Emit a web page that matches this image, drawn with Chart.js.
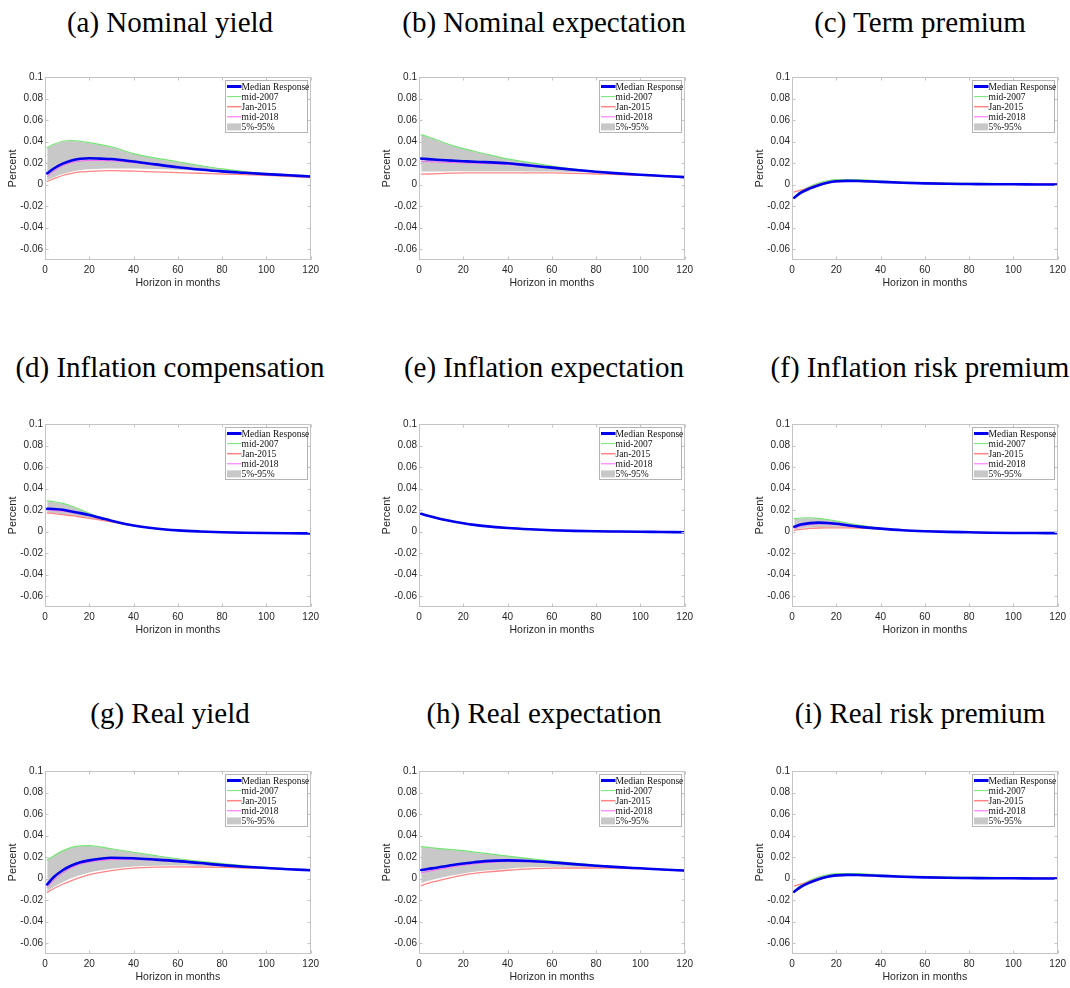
<!DOCTYPE html>
<html>
<head>
<meta charset="utf-8">
<script src="https://cdn.jsdelivr.net/npm/chart.js@4.4.1/dist/chart.umd.min.js"></script>
<style>
  html, body { margin: 0; padding: 0; background: #fff; }
  #page { position: relative; width: 1070px; height: 988px; overflow: hidden; background: #fff; }
  .panel { position: absolute; }
  .ptitle {
    position: absolute; width: 380px; text-align: center;
    font-family: "Liberation Serif", "DejaVu Serif", serif; font-size: 29px; color: #000;
    line-height: 30px; white-space: nowrap;
  }
</style>
</head>
<body>
<div id="page"></div>
<script>
// Impulse responses over a 120-month horizon, sampled at these months
const horizons = [1, 4, 8, 12, 16, 20, 25, 30, 40, 50, 60, 70, 80, 90, 100, 110, 120];
const xTicks = [0, 20, 40, 60, 80, 100, 120];
const yTicks = [-0.06, -0.04, -0.02, 0, 0.02, 0.04, 0.06, 0.08, 0.1];
const yTickLabels = ['-0.06', '-0.04', '-0.02', '0', '0.02', '0.04', '0.06', '0.08', '0.1'];
const legendLabels = ['Median Response', 'mid-2007', 'Jan-2015', 'mid-2018', '5%-95%'];
const panelTitles = [
  '(a) Nominal yield', '(b) Nominal expectation', '(c) Term premium',
  '(d) Inflation compensation', '(e) Inflation expectation', '(f) Inflation risk premium',
  '(g) Real yield', '(h) Real expectation', '(i) Real risk premium'
];

// (a) Nominal yield
const nomYield_median  = [0.0105, 0.0150, 0.0195, 0.0225, 0.0240, 0.0245, 0.0242, 0.0238, 0.0215, 0.0188, 0.0162, 0.0141, 0.0123, 0.0110, 0.0098, 0.0087, 0.0076];
const nomYield_mid2007 = [0.0344, 0.0375, 0.0403, 0.0410, 0.0403, 0.0390, 0.0372, 0.0352, 0.0288, 0.0247, 0.0213, 0.0178, 0.0146, 0.0122, 0.0102, 0.0089, 0.0078];
const nomYield_jan2015 = [0.0030, 0.0055, 0.0085, 0.0105, 0.0118, 0.0123, 0.0128, 0.0130, 0.0125, 0.0118, 0.0112, 0.0106, 0.0099, 0.0093, 0.0087, 0.0078, 0.0065];
const nomYield_mid2018 = [0.0075, 0.0125, 0.0175, 0.0205, 0.0220, 0.0225, 0.0225, 0.0222, 0.0205, 0.0180, 0.0157, 0.0138, 0.0121, 0.0108, 0.0096, 0.0086, 0.0075];
const nomYield_p05     = [0.0040, 0.0068, 0.0098, 0.0120, 0.0135, 0.0142, 0.0147, 0.0149, 0.0149, 0.0145, 0.0138, 0.0127, 0.0114, 0.0104, 0.0094, 0.0084, 0.0072];
const nomYield_p95     = [0.0338, 0.0370, 0.0398, 0.0405, 0.0398, 0.0385, 0.0368, 0.0348, 0.0284, 0.0243, 0.0209, 0.0175, 0.0144, 0.0120, 0.0101, 0.0088, 0.0077];

// (b) Nominal expectation
const nomExp_median  = [0.0242, 0.0237, 0.0231, 0.0226, 0.0222, 0.0218, 0.0213, 0.0209, 0.0199, 0.0178, 0.0158, 0.0138, 0.0120, 0.0105, 0.0092, 0.0081, 0.0070];
const nomExp_mid2007 = [0.0463, 0.0445, 0.0415, 0.0385, 0.0358, 0.0334, 0.0310, 0.0285, 0.0239, 0.0205, 0.0173, 0.0145, 0.0122, 0.0105, 0.0092, 0.0082, 0.0072];
const nomExp_jan2015 = [0.0097, 0.0099, 0.0102, 0.0105, 0.0107, 0.0109, 0.0110, 0.0110, 0.0110, 0.0110, 0.0109, 0.0105, 0.0099, 0.0094, 0.0087, 0.0078, 0.0066];
const nomExp_mid2018 = [0.0215, 0.0213, 0.0210, 0.0207, 0.0204, 0.0202, 0.0199, 0.0196, 0.0188, 0.0172, 0.0154, 0.0135, 0.0118, 0.0104, 0.0091, 0.0080, 0.0069];
const nomExp_p05     = [0.0122, 0.0122, 0.0123, 0.0123, 0.0124, 0.0124, 0.0124, 0.0124, 0.0124, 0.0123, 0.0122, 0.0118, 0.0112, 0.0102, 0.0091, 0.0080, 0.0070];
const nomExp_p95     = [0.0459, 0.0441, 0.0411, 0.0381, 0.0354, 0.0330, 0.0306, 0.0282, 0.0236, 0.0202, 0.0171, 0.0143, 0.0121, 0.0104, 0.0091, 0.0081, 0.0071];

// (c) Term premium
const termPrem_median  = [-0.0122, -0.0075, -0.0035, -0.0005, 0.0018, 0.0031, 0.0035, 0.0034, 0.0026, 0.0018, 0.0012, 0.0008, 0.0006, 0.0004, 0.0003, 0.0002, 0.0001];
const termPrem_mid2007 = [-0.0112, -0.0062, -0.0018, 0.0015, 0.0036, 0.0046, 0.0048, 0.0046, 0.0034, 0.0024, 0.0018, 0.0014, 0.0012, 0.0011, 0.0010, 0.0010, 0.0010];
const termPrem_jan2015 = [-0.0068, -0.0052, -0.0025, 0.0002, 0.0018, 0.0028, 0.0032, 0.0031, 0.0025, 0.0018, 0.0013, 0.0010, 0.0008, 0.0007, 0.0006, 0.0006, 0.0006];
const termPrem_mid2018 = [-0.0115, -0.0072, -0.0032, -0.0002, 0.0017, 0.0028, 0.0032, 0.0031, 0.0024, 0.0016, 0.0011, 0.0008, 0.0006, 0.0005, 0.0005, 0.0005, 0.0005];
const termPrem_p05     = [-0.0125, -0.0092, -0.0052, -0.0018, 0.0005, 0.0018, 0.0024, 0.0025, 0.0021, 0.0015, 0.0010, 0.0007, 0.0005, 0.0004, 0.0003, 0.0002, 0.0001];
const termPrem_p95     = [-0.0108, -0.0058, -0.0015, 0.0017, 0.0038, 0.0046, 0.0048, 0.0046, 0.0035, 0.0025, 0.0019, 0.0015, 0.0013, 0.0012, 0.0011, 0.0011, 0.0011];

// (d) Inflation compensation
const inflComp_median  = [0.0213, 0.0211, 0.0203, 0.0188, 0.0172, 0.0154, 0.0128, 0.0102, 0.0057, 0.0029, 0.0012, 0.0002, -0.0005, -0.0010, -0.0013, -0.0015, -0.0016];
const inflComp_mid2007 = [0.0286, 0.0278, 0.0262, 0.0238, 0.0205, 0.0170, 0.0132, 0.0098, 0.0055, 0.0028, 0.0012, 0.0002, -0.0005, -0.0010, -0.0013, -0.0014, -0.0015];
const inflComp_jan2015 = [0.0175, 0.0168, 0.0158, 0.0148, 0.0136, 0.0123, 0.0108, 0.0091, 0.0055, 0.0029, 0.0012, 0.0001, -0.0007, -0.0011, -0.0014, -0.0015, -0.0016];
const inflComp_mid2018 = [0.0200, 0.0198, 0.0190, 0.0178, 0.0164, 0.0148, 0.0124, 0.0099, 0.0056, 0.0028, 0.0011, 0.0001, -0.0006, -0.0010, -0.0013, -0.0015, -0.0016];
const inflComp_p05     = [0.0178, 0.0172, 0.0162, 0.0152, 0.0140, 0.0127, 0.0111, 0.0093, 0.0054, 0.0027, 0.0010, 0.0000, -0.0007, -0.0011, -0.0014, -0.0016, -0.0017];
const inflComp_p95     = [0.0282, 0.0274, 0.0258, 0.0234, 0.0202, 0.0168, 0.0130, 0.0097, 0.0055, 0.0028, 0.0012, 0.0002, -0.0005, -0.0009, -0.0012, -0.0013, -0.0014];

// (e) Inflation expectation
const inflExp_median  = [0.0166, 0.0148, 0.0127, 0.0108, 0.0092, 0.0078, 0.0063, 0.0051, 0.0034, 0.0022, 0.0013, 0.0007, 0.0003, 0.0001, -0.0001, -0.0003, -0.0005];
const inflExp_mid2007 = [0.0168, 0.0150, 0.0129, 0.0110, 0.0094, 0.0080, 0.0065, 0.0053, 0.0035, 0.0023, 0.0014, 0.0008, 0.0004, 0.0002, 0.0000, -0.0002, -0.0004];
const inflExp_jan2015 = [0.0164, 0.0146, 0.0125, 0.0106, 0.0090, 0.0076, 0.0061, 0.0049, 0.0032, 0.0021, 0.0012, 0.0006, 0.0002, 0.0000, -0.0002, -0.0004, -0.0006];
const inflExp_mid2018 = [0.0165, 0.0147, 0.0126, 0.0107, 0.0091, 0.0077, 0.0062, 0.0050, 0.0033, 0.0021, 0.0012, 0.0006, 0.0002, 0.0000, -0.0002, -0.0004, -0.0006];
const inflExp_p05     = [0.0163, 0.0145, 0.0124, 0.0105, 0.0089, 0.0075, 0.0060, 0.0048, 0.0031, 0.0020, 0.0011, 0.0005, 0.0001, -0.0001, -0.0003, -0.0005, -0.0007];
const inflExp_p95     = [0.0169, 0.0151, 0.0130, 0.0111, 0.0095, 0.0081, 0.0066, 0.0054, 0.0036, 0.0024, 0.0015, 0.0009, 0.0005, 0.0002, 0.0000, -0.0002, -0.0003];

// (f) Inflation risk premium
const inflRP_median  = [0.0046, 0.0066, 0.0079, 0.0084, 0.0081, 0.0073, 0.0060, 0.0047, 0.0028, 0.0013, 0.0004, -0.0002, -0.0006, -0.0010, -0.0012, -0.0013, -0.0014];
const inflRP_mid2007 = [0.0121, 0.0127, 0.0129, 0.0124, 0.0113, 0.0099, 0.0080, 0.0062, 0.0031, 0.0013, 0.0004, -0.0002, -0.0006, -0.0010, -0.0012, -0.0014, -0.0015];
const inflRP_jan2015 = [0.0013, 0.0022, 0.0030, 0.0034, 0.0035, 0.0035, 0.0035, 0.0034, 0.0026, 0.0014, 0.0006, -0.0001, -0.0006, -0.0010, -0.0012, -0.0013, -0.0014];
const inflRP_mid2018 = [0.0032, 0.0052, 0.0066, 0.0072, 0.0071, 0.0066, 0.0056, 0.0045, 0.0027, 0.0012, 0.0003, -0.0003, -0.0007, -0.0010, -0.0012, -0.0013, -0.0014];
const inflRP_p05     = [0.0020, 0.0030, 0.0038, 0.0041, 0.0042, 0.0041, 0.0039, 0.0036, 0.0026, 0.0013, 0.0004, -0.0002, -0.0007, -0.0011, -0.0013, -0.0014, -0.0015];
const inflRP_p95     = [0.0117, 0.0122, 0.0124, 0.0120, 0.0110, 0.0097, 0.0078, 0.0060, 0.0030, 0.0013, 0.0004, -0.0002, -0.0006, -0.0009, -0.0011, -0.0013, -0.0014];

// (g) Real yield
const realYield_median  = [-0.0054, 0.0015, 0.0078, 0.0122, 0.0152, 0.0170, 0.0185, 0.0194, 0.0189, 0.0177, 0.0163, 0.0145, 0.0126, 0.0111, 0.0099, 0.0088, 0.0078];
const realYield_mid2007 = [0.0173, 0.0212, 0.0258, 0.0290, 0.0305, 0.0307, 0.0295, 0.0278, 0.0245, 0.0214, 0.0185, 0.0161, 0.0140, 0.0120, 0.0104, 0.0090, 0.0078];
const realYield_jan2015 = [-0.0128, -0.0092, -0.0052, -0.0018, 0.0012, 0.0038, 0.0058, 0.0075, 0.0097, 0.0107, 0.0110, 0.0108, 0.0104, 0.0099, 0.0095, 0.0088, 0.0075];
const realYield_mid2018 = [-0.0082, -0.0015, 0.0052, 0.0102, 0.0136, 0.0154, 0.0168, 0.0176, 0.0178, 0.0171, 0.0159, 0.0142, 0.0124, 0.0109, 0.0097, 0.0086, 0.0076];
const realYield_p05     = [-0.0118, -0.0078, -0.0033, 0.0005, 0.0035, 0.0058, 0.0078, 0.0093, 0.0113, 0.0120, 0.0121, 0.0118, 0.0113, 0.0106, 0.0098, 0.0088, 0.0076];
const realYield_p95     = [0.0169, 0.0208, 0.0254, 0.0286, 0.0301, 0.0303, 0.0291, 0.0275, 0.0242, 0.0211, 0.0183, 0.0159, 0.0138, 0.0119, 0.0103, 0.0089, 0.0077];

// (h) Real expectation
const realExp_median  = [0.0080, 0.0090, 0.0102, 0.0116, 0.0129, 0.0140, 0.0153, 0.0163, 0.0170, 0.0164, 0.0151, 0.0135, 0.0120, 0.0107, 0.0096, 0.0085, 0.0075];
const realExp_mid2007 = [0.0298, 0.0291, 0.0282, 0.0274, 0.0267, 0.0260, 0.0247, 0.0234, 0.0209, 0.0186, 0.0164, 0.0144, 0.0126, 0.0110, 0.0096, 0.0085, 0.0075];
const realExp_jan2015 = [-0.0066, -0.0044, -0.0022, -0.0002, 0.0017, 0.0033, 0.0048, 0.0060, 0.0078, 0.0091, 0.0097, 0.0099, 0.0099, 0.0097, 0.0093, 0.0084, 0.0072];
const realExp_mid2018 = [0.0054, 0.0067, 0.0083, 0.0098, 0.0113, 0.0125, 0.0138, 0.0148, 0.0158, 0.0156, 0.0146, 0.0132, 0.0118, 0.0105, 0.0094, 0.0083, 0.0073];
const realExp_p05     = [-0.0042, -0.0022, -0.0001, 0.0018, 0.0034, 0.0048, 0.0063, 0.0075, 0.0093, 0.0105, 0.0110, 0.0111, 0.0109, 0.0103, 0.0094, 0.0085, 0.0073];
const realExp_p95     = [0.0295, 0.0288, 0.0279, 0.0271, 0.0264, 0.0257, 0.0244, 0.0231, 0.0206, 0.0184, 0.0162, 0.0143, 0.0125, 0.0109, 0.0095, 0.0084, 0.0074];

// (i) Real risk premium
const realRP_median  = [-0.0122, -0.0076, -0.0036, -0.0006, 0.0017, 0.0030, 0.0035, 0.0034, 0.0026, 0.0018, 0.0012, 0.0008, 0.0006, 0.0004, 0.0003, 0.0002, 0.0001];
const realRP_mid2007 = [-0.0112, -0.0062, -0.0018, 0.0015, 0.0036, 0.0046, 0.0048, 0.0046, 0.0034, 0.0024, 0.0018, 0.0014, 0.0012, 0.0011, 0.0010, 0.0010, 0.0010];
const realRP_jan2015 = [-0.0068, -0.0052, -0.0025, 0.0002, 0.0018, 0.0028, 0.0032, 0.0031, 0.0025, 0.0018, 0.0013, 0.0010, 0.0008, 0.0007, 0.0006, 0.0006, 0.0006];
const realRP_mid2018 = [-0.0115, -0.0072, -0.0032, -0.0002, 0.0017, 0.0028, 0.0032, 0.0031, 0.0024, 0.0016, 0.0011, 0.0008, 0.0006, 0.0005, 0.0005, 0.0005, 0.0005];
const realRP_p05     = [-0.0125, -0.0092, -0.0052, -0.0018, 0.0005, 0.0018, 0.0024, 0.0025, 0.0021, 0.0015, 0.0010, 0.0007, 0.0005, 0.0004, 0.0003, 0.0002, 0.0001];
const realRP_p95     = [-0.0108, -0.0058, -0.0015, 0.0017, 0.0038, 0.0046, 0.0048, 0.0046, 0.0035, 0.0025, 0.0019, 0.0015, 0.0013, 0.0012, 0.0011, 0.0011, 0.0011];

const panels = [
  [nomYield_median, nomYield_mid2007, nomYield_jan2015, nomYield_mid2018, nomYield_p05, nomYield_p95],
  [nomExp_median, nomExp_mid2007, nomExp_jan2015, nomExp_mid2018, nomExp_p05, nomExp_p95],
  [termPrem_median, termPrem_mid2007, termPrem_jan2015, termPrem_mid2018, termPrem_p05, termPrem_p95],
  [inflComp_median, inflComp_mid2007, inflComp_jan2015, inflComp_mid2018, inflComp_p05, inflComp_p95],
  [inflExp_median, inflExp_mid2007, inflExp_jan2015, inflExp_mid2018, inflExp_p05, inflExp_p95],
  [inflRP_median, inflRP_mid2007, inflRP_jan2015, inflRP_mid2018, inflRP_p05, inflRP_p95],
  [realYield_median, realYield_mid2007, realYield_jan2015, realYield_mid2018, realYield_p05, realYield_p95],
  [realExp_median, realExp_mid2007, realExp_jan2015, realExp_mid2018, realExp_p05, realExp_p95],
  [realRP_median, realRP_mid2007, realRP_jan2015, realRP_mid2018, realRP_p05, realRP_p95]
];

// Page layout: plot-area origins for each column and row, title centres
const colLeft = [45, 419, 792];
const rowTop = [74, 421, 768];
const titleCenterX = [170, 544, 920];
const titleCenterY = [22, 367, 713];
const AREA_W = 266, AREA_H = 186;
const Y_AXIS_W = 45, X_AXIS_H = 35, PAD_TOP = 5, PAD_RIGHT = 12;

const COLORS = {
  median: '#0000ee',
  mid2007: '#74e474',
  jan2015: '#ff8585',
  mid2018: '#ff66ff',
  band: '#c8c8c8',
  box: '#c4c4c4',
  text: '#262626'
};
const sansFont = "'Liberation Sans', Arial, sans-serif";
const serifFont = "'Liberation Serif', 'DejaVu Serif', serif";

const toPoints = arr => horizons.map((h, i) => ({ x: h, y: arr[i] }));

// Axes box with inward tick marks on all four sides
const boxPlugin = {
  id: 'matlabBox',
  afterDatasetsDraw(chart) {
    const { ctx, chartArea: a, scales: { x, y } } = chart;
    const L = Math.round(a.left) + 0.5, R = Math.round(a.right) - 0.5;
    const T = Math.round(a.top) + 0.5, B = Math.round(a.bottom) - 0.5;
    ctx.save();
    ctx.strokeStyle = COLORS.box;
    ctx.lineWidth = 1;
    ctx.strokeRect(L, T, R - L, B - T);
    const tl = 3;
    ctx.beginPath();
    xTicks.forEach(v => {
      const px = Math.round(x.getPixelForValue(v)) + 0.5;
      ctx.moveTo(px, B); ctx.lineTo(px, B - tl);
      ctx.moveTo(px, T); ctx.lineTo(px, T + tl);
    });
    yTicks.forEach(v => {
      const py = Math.round(y.getPixelForValue(v)) + 0.5;
      ctx.moveTo(L, py); ctx.lineTo(L + tl, py);
      ctx.moveTo(R, py); ctx.lineTo(R - tl, py);
    });
    ctx.stroke();
    ctx.restore();
  }
};

// Boxed legend in the upper-right corner of the plot area
const legendPlugin = {
  id: 'cornerLegend',
  afterDraw(chart) {
    const { ctx, chartArea: a } = chart;
    const w = 82, h = 52;
    const x0 = Math.round(a.right - 4 - w) + 0.5, y0 = Math.round(a.top + 3) + 0.5;
    ctx.save();
    ctx.fillStyle = '#fff';
    ctx.fillRect(x0, y0, w, h);
    ctx.strokeStyle = '#b4b4b4';
    ctx.lineWidth = 1;
    ctx.strokeRect(x0, y0, w, h);
    const styles = [
      { color: COLORS.median, width: 3 },
      { color: COLORS.mid2007, width: 1 },
      { color: COLORS.jan2015, width: 1.5 },
      { color: COLORS.mid2018, width: 1 },
      { color: COLORS.band, patch: true }
    ];
    ctx.font = '9.5px ' + serifFont;
    ctx.textBaseline = 'middle';
    ctx.fillStyle = '#111';
    legendLabels.forEach((lab, i) => {
      const cy = y0 + 6 + i * 10.1;
      const st = styles[i];
      if (st.patch) {
        ctx.fillStyle = st.color;
        ctx.fillRect(x0 + 1.5, cy - 3.5, 14, 7);
      } else {
        ctx.strokeStyle = st.color;
        ctx.lineWidth = st.width;
        ctx.beginPath();
        ctx.moveTo(x0 + 1.5, cy);
        ctx.lineTo(x0 + 16, cy);
        ctx.stroke();
      }
      ctx.fillStyle = '#111';
      ctx.fillText(lab, x0 + 16, cy + 0.5);
    });
    ctx.restore();
  }
};

function buildPanel(index) {
  const col = index % 3, row = Math.floor(index / 3);
  const page = document.getElementById('page');

  const title = document.createElement('div');
  title.className = 'ptitle';
  title.textContent = panelTitles[index];
  title.style.left = (titleCenterX[col] - 190) + 'px';
  title.style.top = (titleCenterY[row] - 15) + 'px';
  page.appendChild(title);

  const canvas = document.createElement('canvas');
  const cw = Y_AXIS_W + AREA_W + PAD_RIGHT, ch = PAD_TOP + AREA_H + X_AXIS_H;
  canvas.width = cw; canvas.height = ch;
  canvas.className = 'panel';
  canvas.style.left = (colLeft[col] - Y_AXIS_W) + 'px';
  canvas.style.top = (rowTop[row] - PAD_TOP) + 'px';
  canvas.style.width = cw + 'px';
  canvas.style.height = ch + 'px';
  page.appendChild(canvas);

  const [median, mid2007, jan2015, mid2018, p05, p95] = panels[index];
  const tickFont = { family: sansFont, size: 10 };

  new Chart(canvas, {
    type: 'line',
    data: {
      datasets: [
        { label: 'Median Response', data: toPoints(median), borderColor: COLORS.median, borderWidth: 2.6, order: 0 },
        { label: 'mid-2018', data: toPoints(mid2018), borderColor: COLORS.mid2018, borderWidth: 1, order: 1 },
        { label: 'Jan-2015', data: toPoints(jan2015), borderColor: COLORS.jan2015, borderWidth: 1.3, order: 2 },
        { label: 'mid-2007', data: toPoints(mid2007), borderColor: COLORS.mid2007, borderWidth: 1.2, order: 3 },
        { label: '5%', data: toPoints(p05), borderWidth: 0, borderColor: 'rgba(0,0,0,0)', fill: false, order: 5 },
        { label: '95%', data: toPoints(p95), borderWidth: 0, borderColor: 'rgba(0,0,0,0)', fill: 4, backgroundColor: COLORS.band, order: 4 }
      ]
    },
    options: {
      responsive: false,
      animation: false,
      devicePixelRatio: 1,
      layout: { padding: { left: 0, top: PAD_TOP, right: PAD_RIGHT, bottom: 0 } },
      elements: {
        point: { radius: 0, hoverRadius: 0 },
        line: { cubicInterpolationMode: 'monotone', borderCapStyle: 'round', borderJoinStyle: 'round' }
      },
      plugins: {
        legend: { display: false },
        tooltip: { enabled: false },
        title: { display: false }
      },
      scales: {
        x: {
          type: 'linear', min: 0, max: 120,
          afterBuildTicks: sc => { sc.ticks = xTicks.map(v => ({ value: v })); },
          afterFit: sc => { sc.height = X_AXIS_H; },
          grid: { display: false, drawTicks: false },
          border: { display: false },
          ticks: { padding: 4, font: tickFont, color: COLORS.text, maxRotation: 0, autoSkip: false },
          title: { display: true, text: 'Horizon in months', font: { family: sansFont, size: 10.5 }, color: COLORS.text, padding: { top: 0, bottom: 6 } }
        },
        y: {
          type: 'linear', min: -0.07, max: 0.1,
          afterBuildTicks: sc => { sc.ticks = yTicks.map(v => ({ value: v })); },
          afterFit: sc => { sc.width = Y_AXIS_W; },
          grid: { display: false, drawTicks: false },
          border: { display: false },
          ticks: { padding: 2, font: tickFont, color: COLORS.text, autoSkip: false,
                   callback: (v, i) => yTickLabels[i] },
          title: { display: true, text: 'Percent', font: { family: sansFont, size: 11 }, color: COLORS.text, padding: { top: 6, bottom: 0 } }
        }
      }
    },
    plugins: [boxPlugin, legendPlugin]
  });
}

for (let i = 0; i < 9; i++) buildPanel(i);
</script>
</body>
</html>
